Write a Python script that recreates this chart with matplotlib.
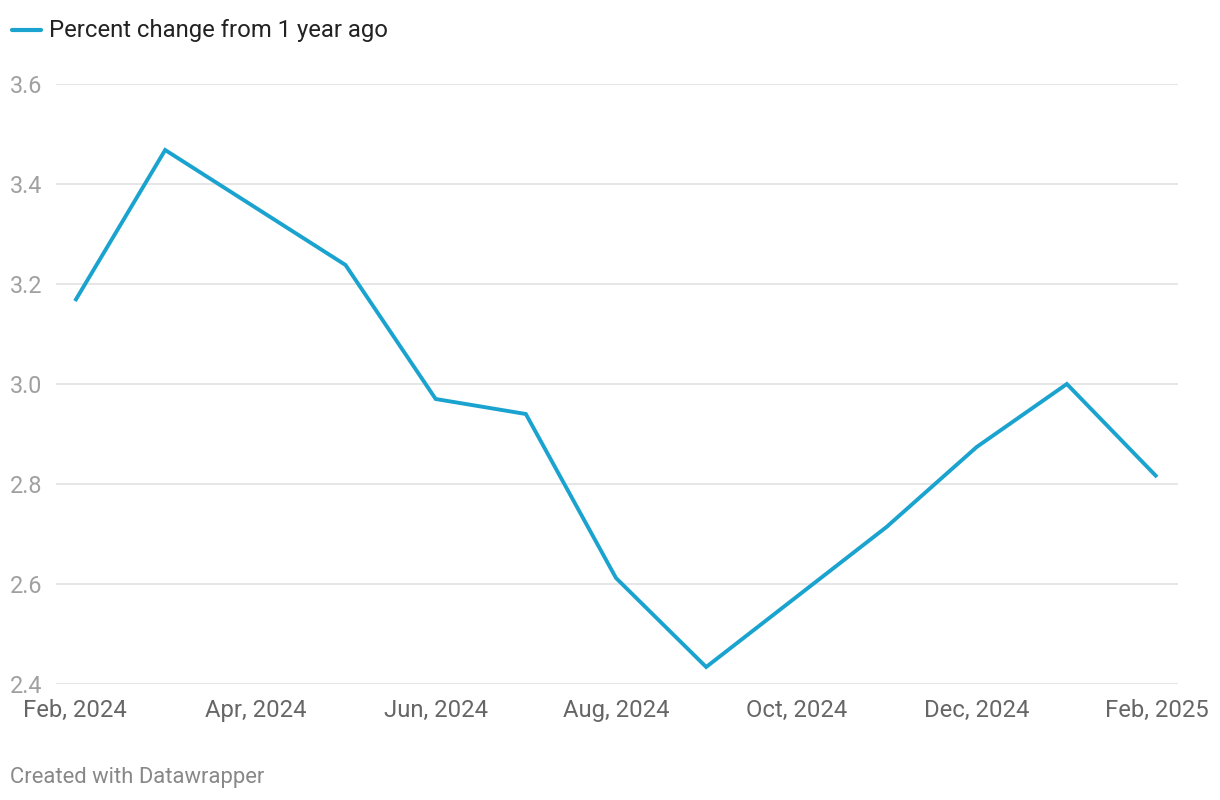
"""
Percent change from 1 year ago, Feb 2024 - Feb 2025
"""

import matplotlib.pyplot as plt

plt.rcParams["font.family"] = ["Roboto", "DejaVu Sans"]

months = ["Feb, 2024", "Mar, 2024", "Apr, 2024", "May, 2024", "Jun, 2024",
          "Jul, 2024", "Aug, 2024", "Sep, 2024", "Oct, 2024", "Nov, 2024",
          "Dec, 2024", "Jan, 2025", "Feb, 2025"]
pct_change = [3.166, 3.468, 3.353, 3.238, 2.970, 2.940, 2.612, 2.434,
              2.574, 2.714, 2.874, 3.000, 2.814]
y_ticks = [2.4, 2.6, 2.8, 3.0, 3.2, 3.4, 3.6]

LINE_COLOR = "#1ba3cf"

fig = plt.figure(figsize=(12.2, 8), dpi=100)
ax = fig.add_axes([56 / 1220, 1 - 684 / 800, (1178 - 56) / 1220, 600 / 800])

x = list(range(len(months)))
ax.plot(x, pct_change, color=LINE_COLOR, linewidth=2.8, solid_joinstyle="miter",
        solid_capstyle="butt", zorder=3)

ax.set_ylim(2.4, 3.6)
ax.set_xlim(-19 / 90.17, 12 + 21 / 90.17)
ax.set_yticks(y_ticks)
ax.set_yticklabels([f"{v:.1f}" for v in y_ticks])
ax.set_xticks(x[::2])
ax.set_xticklabels(months[::2])

ax.grid(axis="y", color="#e2e2e2", linewidth=1.2)
ax.set_axisbelow(True)
for s in ax.spines.values():
    s.set_visible(False)

ax.tick_params(axis="y", length=0, pad=33, labelsize=16.8, labelcolor="#a0a0a0")
for lab in ax.get_yticklabels():
    lab.set_horizontalalignment("left")
ax.tick_params(axis="x", length=0, pad=11, labelsize=17.2, labelcolor="#666666")

# legend
fig.add_artist(plt.Line2D([12 / 1220, 41 / 1220], [1 - 30 / 800] * 2,
                          color=LINE_COLOR, linewidth=3, solid_capstyle="round"))
fig.text(49 / 1220, 1 - 30 / 800, "Percent change from 1 year ago", fontsize=17.2,
         color="#222222", va="center", ha="left")

fig.text(10 / 1220, 1 - 778 / 800, "Created with Datawrapper", fontsize=15.8,
         color="#888888", va="center", ha="left")

plt.savefig("out.png", dpi=100)
